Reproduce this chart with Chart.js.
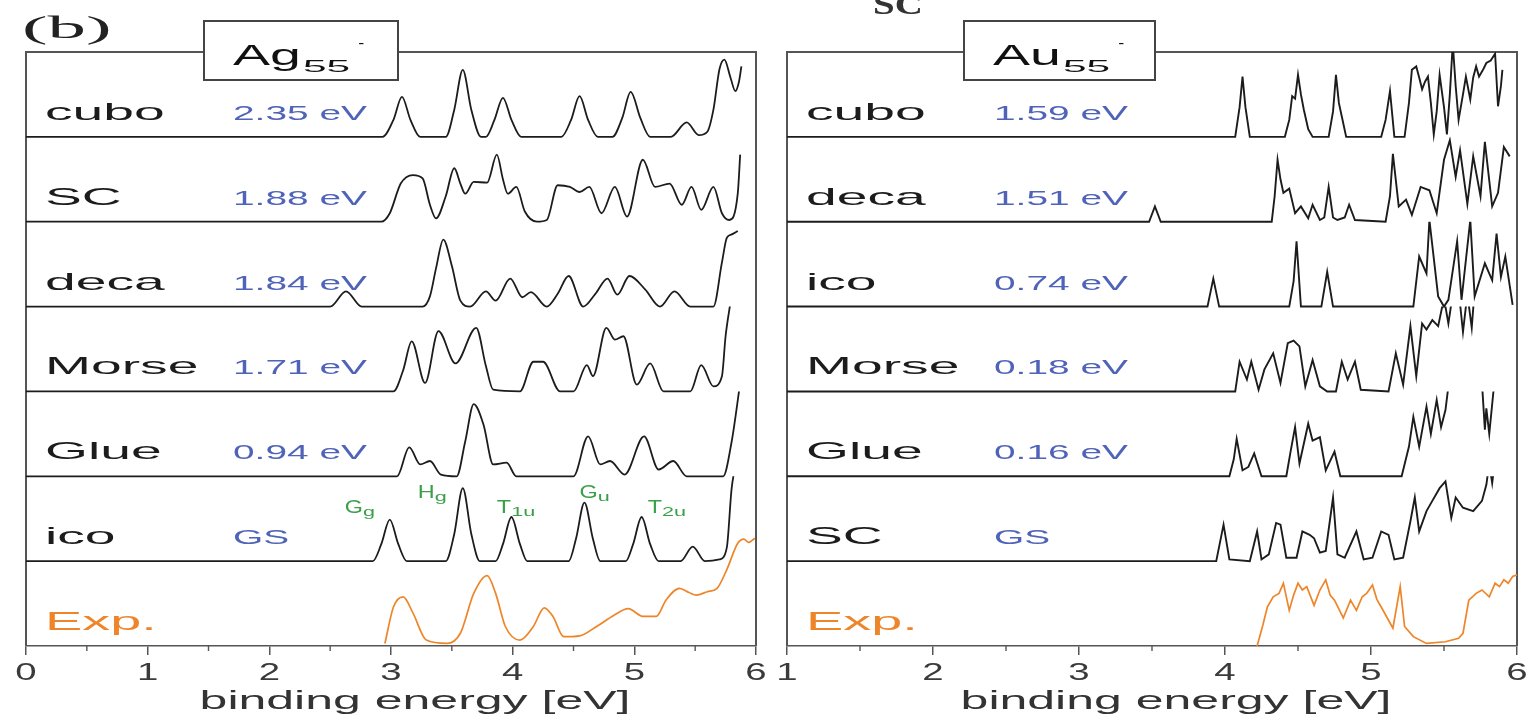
<!DOCTYPE html>
<html><head><meta charset="utf-8">
<script src="https://cdn.jsdelivr.net/npm/chart.js@4.4.1/dist/chart.umd.min.js"></script>
<style>
html,body{margin:0;padding:0;background:#fff;width:1534px;height:718px;overflow:hidden}
#wl{position:absolute;left:0;top:0;width:770px;height:718px}
#wr{position:absolute;left:770px;top:0;width:764px;height:718px}
</style></head><body>
<div id="wl"><canvas id="cl"></canvas></div>
<div id="wr"><canvas id="cr"></canvas></div>
<script>
// ---------- labels ----------
const agRowNames = ['cubo','SC','deca','Morse','Glue','ico'];
const agGapLabels = ['2.35 eV','1.88 eV','1.84 eV','1.71 eV','0.94 eV','GS'];
const auRowNames = ['cubo','deca','ico','Morse','Glue','SC'];
const auGapLabels = ['1.59 eV','1.51 eV','0.74 eV','0.18 eV','0.16 eV','GS'];
const agTickLabels = [0,1,2,3,4,5,6];
const auTickLabels = [1,2,3,4,5,6];
const icoModeNames = [['G','g'],['H','g'],['T','1u'],['G','u'],['T','2u']];

// ---------- Ag55- spectra: [binding energy eV, intensity (row units)] ----------
const agCubo = [[0,0],[2.93,0],[3.02,0.2],[3.09,0.47],[3.16,0.2],[3.24,0],[3.45,0],[3.52,0.32],[3.59,0.79],[3.66,0.32],[3.74,0],[3.78,0],[3.85,0.2],[3.92,0.46],[3.99,0.2],[4.07,0],[4.4,0],[4.48,0.2],[4.55,0.48],[4.62,0.2],[4.7,0],[4.82,0],[4.9,0.22],[4.97,0.53],[5.05,0.22],[5.13,0],[5.3,0],[5.43,0.17],[5.53,0.02],[5.6,0.06],[5.65,0.32],[5.7,0.8],[5.74,0.91],[5.79,0.7],[5.83,0.54],[5.86,0.65],[5.88,0.83]];
const agSC = [[0,0],[2.92,0],[2.99,0.1],[3.08,0.45],[3.18,0.55],[3.26,0.51],[3.32,0.2],[3.37,0.04],[3.45,0.3],[3.52,0.63],[3.57,0.45],[3.61,0.33],[3.68,0.47],[3.79,0.46],[3.87,0.79],[3.92,0.5],[3.96,0.33],[4.03,0.41],[4.1,0.12],[4.2,0],[4.28,0.02],[4.37,0.43],[4.47,0.41],[4.55,0.35],[4.63,0.41],[4.73,0.1],[4.84,0.41],[4.94,0.06],[5.07,0.73],[5.17,0.41],[5.29,0.45],[5.39,0.2],[5.47,0.41],[5.55,0.14],[5.65,0.41],[5.72,0.1],[5.78,0.02],[5.85,0.33],[5.87,0.79]];
const agDeca = [[0,0],[2.5,0],[2.63,0.18],[2.76,0],[3.26,0],[3.32,0.12],[3.37,0.45],[3.43,0.79],[3.5,0.48],[3.57,0.07],[3.65,0],[3.78,0.18],[3.86,0.07],[3.98,0.33],[4.08,0.11],[4.15,0.17],[4.28,0],[4.37,0.15],[4.46,0.36],[4.58,0],[4.68,0.15],[4.78,0.33],[4.86,0.14],[4.96,0.36],[5.09,0.2],[5.21,0],[5.33,0.18],[5.46,0],[5.65,0],[5.72,0.52],[5.76,0.81],[5.8,0.85],[5.85,0.89]];
const agMorse = [[0,0],[3.02,0],[3.1,0.25],[3.17,0.59],[3.28,0.1],[3.39,0.71],[3.53,0.33],[3.7,0.75],[3.78,0.3],[3.84,0.02],[4.06,0],[4.17,0.35],[4.25,0.35],[4.39,0],[4.5,0],[4.61,0.31],[4.66,0.18],[4.77,0.75],[4.84,0.61],[4.91,0.65],[5.02,0.08],[5.13,0.33],[5.24,0],[5.46,0],[5.55,0.31],[5.65,0.06],[5.72,0.18],[5.75,0.65],[5.79,1.05]];
const agGlue = [[0,0],[3.05,0],[3.15,0.34],[3.24,0.14],[3.32,0.18],[3.41,0.02],[3.54,0],[3.61,0.41],[3.68,0.85],[3.76,0.61],[3.84,0.14],[3.95,0.16],[4.03,0],[4.5,0],[4.62,0.47],[4.72,0.14],[4.8,0.18],[4.92,0.02],[5.08,0.47],[5.2,0.08],[5.32,0.18],[5.43,0],[5.73,0],[5.8,0.41],[5.87,1.1]];
const agIco = [[0,0],[2.85,0],[2.92,0.2],[2.99,0.49],[3.06,0.2],[3.13,0],[3.45,0],[3.52,0.32],[3.59,0.86],[3.66,0.32],[3.73,0],[3.86,0],[3.92,0.2],[3.99,0.52],[4.06,0.2],[4.12,0],[4.46,0],[4.52,0.26],[4.59,0.69],[4.66,0.26],[4.72,0],[4.93,0],[4.99,0.2],[5.06,0.52],[5.13,0.2],[5.2,0],[5.38,0],[5.48,0.17],[5.58,0],[5.7,0.02],[5.76,0.16],[5.8,0.86],[5.86,1.3]];
const agExp = [[2.95,0.03],[3.02,0.46],[3.1,0.58],[3.18,0.39],[3.29,0.07],[3.46,0.03],[3.57,0.15],[3.68,0.62],[3.79,0.83],[3.86,0.62],[3.94,0.23],[4.06,0.07],[4.17,0.23],[4.26,0.45],[4.33,0.35],[4.42,0.11],[4.55,0.12],[4.69,0.23],[4.83,0.36],[4.95,0.44],[5.07,0.35],[5.18,0.35],[5.26,0.54],[5.37,0.68],[5.45,0.63],[5.51,0.6],[5.6,0.64],[5.68,0.68],[5.76,0.9],[5.85,1.21],[5.9,1.26],[5.94,1.22],[5.99,1.27]];

// ---------- Au55- spectra ----------
const auCubo = [[1,0],[4.07,0],[4.1,0.35],[4.12,0.71],[4.14,0.35],[4.17,0],[4.41,0],[4.44,0.2],[4.46,0.48],[4.48,0.45],[4.5,0.73],[4.52,0.5],[4.54,0.32],[4.57,0.09],[4.6,0],[4.71,0],[4.74,0.3],[4.76,0.73],[4.78,0.4],[4.8,0.24],[4.83,0],[5.07,0],[5.1,0.2],[5.13,0.54],[5.16,0],[5.23,0],[5.26,0.4],[5.28,0.79],[5.31,0.83],[5.33,0.7],[5.35,0.56],[5.37,0.65],[5.39,0.71],[5.41,0.4],[5.43,0.03],[5.45,0.3],[5.47,0.73],[5.5,0.35],[5.52,0.03],[5.54,0.5],[5.56,1.1],[5.58,0.6],[5.6,0.2],[5.63,0.5],[5.65,0.71],[5.68,0.44],[5.7,0.7],[5.72,0.83],[5.74,0.71],[5.77,0.8],[5.79,0.87],[5.82,0.9],[5.85,0.98],[5.87,0.36],[5.89,0.6],[5.9,0.79]];
const auDeca = [[1,0],[3.48,0],[3.52,0.18],[3.56,0],[4.32,0],[4.34,0.3],[4.36,0.73],[4.38,0.5],[4.4,0.34],[4.44,0.39],[4.48,0.1],[4.52,0.18],[4.57,0.04],[4.6,0.2],[4.65,0.02],[4.68,0.05],[4.71,0.41],[4.74,0.05],[4.77,0.02],[4.82,0.05],[4.85,0.2],[4.89,0.02],[5.1,0],[5.13,0.3],[5.15,0.8],[5.19,0.18],[5.24,0.26],[5.28,0.08],[5.34,0.41],[5.4,0.37],[5.45,0.1],[5.5,0.73],[5.54,0.96],[5.58,0.53],[5.61,0.84],[5.66,0.21],[5.7,0.77],[5.75,0.3],[5.78,0.94],[5.83,0.18],[5.87,0.34],[5.91,0.88],[5.95,0.77]];
const auIco = [[1,0],[3.88,0],[3.92,0.33],[3.96,0],[4.44,0],[4.47,0.3],[4.49,0.77],[4.52,0],[4.66,0],[4.7,0.41],[4.74,0],[5.29,0],[5.33,0.59],[5.38,0.39],[5.4,1.02],[5.46,0.12],[5.5,0],[5.53,0.08],[5.59,0.77],[5.62,0.08],[5.68,1.02],[5.71,0.12],[5.78,0.51],[5.83,0.31],[5.86,0.86],[5.89,0.35],[5.92,0.59],[5.97,0.02]];
const auMorse = [[1,0],[4.07,0],[4.1,0.35],[4.15,0.14],[4.18,0.35],[4.23,0.02],[4.27,0.26],[4.33,0.45],[4.38,0.1],[4.43,0.57],[4.47,0.6],[4.51,0.53],[4.55,0.06],[4.6,0.37],[4.65,0.06],[4.7,0],[4.76,0],[4.8,0.35],[4.84,0.14],[4.89,0.35],[4.93,0.02],[5.12,0],[5.17,0.45],[5.22,0.08],[5.27,0.77],[5.31,0.18],[5.35,0.8],[5.38,0.73],[5.42,0.84],[5.46,0.77],[5.5,1.1],[5.53,0.8],[5.56,1.15],[5.6,1.2],[5.63,0.7],[5.66,1.15],[5.69,0.75],[5.71,1.2]];
const auGlue = [[1,0],[4.03,0],[4.06,0.2],[4.08,0.44],[4.12,0.07],[4.16,0.11],[4.2,0.27],[4.25,0],[4.42,0],[4.45,0.3],[4.48,0.58],[4.51,0.15],[4.57,0.62],[4.6,0.42],[4.65,0.46],[4.69,0.07],[4.75,0.29],[4.79,0],[5.21,0],[5.26,0.35],[5.29,0.7],[5.33,0.35],[5.38,0.82],[5.41,0.5],[5.45,0.9],[5.48,0.58],[5.51,0.78],[5.54,1.2],[5.6,1.3],[5.7,1.25],[5.76,1.1],[5.78,0.55],[5.79,0.8],[5.81,0.5],[5.83,0.85],[5.85,1.2]];
const auSC = [[1,0],[3.94,0],[3.99,0.43],[4.03,0.02],[4.17,0],[4.22,0.35],[4.25,0.02],[4.3,0.08],[4.35,0.45],[4.38,0.43],[4.42,0.04],[4.49,0.04],[4.53,0.35],[4.58,0.31],[4.61,0.27],[4.65,0.1],[4.69,0.12],[4.74,0.75],[4.77,0.08],[4.82,0.04],[4.9,0.35],[4.95,0.02],[5.01,0.04],[5.07,0.35],[5.12,0.31],[5.16,0.02],[5.22,0.04],[5.27,0.47],[5.3,0.75],[5.33,0.35],[5.38,0.59],[5.42,0.71],[5.47,0.86],[5.51,0.94],[5.55,0.51],[5.58,0.75],[5.63,0.63],[5.7,0.59],[5.76,0.71],[5.79,0.9],[5.81,1.15],[5.83,0.92],[5.85,1.2],[5.9,1.3]];
const auExp = [[4.22,0],[4.26,0.25],[4.29,0.46],[4.33,0.58],[4.37,0.62],[4.4,0.74],[4.44,0.42],[4.47,0.6],[4.5,0.74],[4.53,0.66],[4.56,0.7],[4.61,0.48],[4.65,0.66],[4.69,0.78],[4.72,0.6],[4.75,0.54],[4.81,0.33],[4.86,0.54],[4.9,0.42],[4.94,0.58],[4.97,0.62],[5.01,0.72],[5.04,0.55],[5.07,0.46],[5.15,0.21],[5.2,0.7],[5.23,0.23],[5.29,0.11],[5.38,0.03],[5.51,0.05],[5.6,0.09],[5.63,0.15],[5.67,0.54],[5.72,0.62],[5.76,0.66],[5.81,0.58],[5.85,0.74],[5.88,0.7],[5.91,0.78],[5.94,0.74],[5.97,0.82],[6.0,0.84]];

// ---------- helpers ----------
const SANS = "'Liberation Sans', Arial, Helvetica, sans-serif";
const SERIF = "'Liberation Serif', 'Times New Roman', serif";
function toPoints(arr, row) { return arr.map(p => ({ x: p[0], y: row + p[1] })); }
function buildDatasets(spectra, exp, smooth) {
  const ds = spectra.map((s, i) => ({
    data: toPoints(s, 6 - i), row: 6 - i, clipToRow: true,
    borderColor: '#1c1c1c', borderWidth: smooth ? 1.8 : 1.9, pointRadius: 0, fill: false,
    cubicInterpolationMode: smooth ? 'monotone' : 'default', tension: 0
  }));
  ds.push({
    data: toPoints(exp, 0), row: 0, clipToRow: false,
    borderColor: '#ee8529', borderWidth: 1.7, pointRadius: 0, fill: false,
    cubicInterpolationMode: smooth ? 'monotone' : 'default', tension: 0
  });
  return ds;
}
function sText(ctx, str, x, y, font, color, sx, align) {
  ctx.save();
  ctx.font = font; ctx.fillStyle = color; ctx.textAlign = align || 'left'; ctx.textBaseline = 'alphabetic';
  ctx.translate(x, y); ctx.scale(sx, 1);
  ctx.fillText(str, 0, 0);
  const w = ctx.measureText(str).width * sx;
  ctx.restore();
  return w;
}

const rowClip = {
  id: 'rowClip',
  beforeDatasetDraw(chart, args) {
    const ds = chart.data.datasets[args.index];
    if (!ds.clipToRow) return;
    const { ctx, chartArea: a, scales: { y } } = chart;
    const top = y.getPixelForValue(ds.row + 1);
    ctx.save();
    ctx.beginPath();
    ctx.rect(a.left - 2, top, a.right - a.left + 4, a.bottom - top + 2);
    ctx.clip();
  },
  afterDatasetDraw(chart, args) {
    const ds = chart.data.datasets[args.index];
    if (!ds.clipToRow) return;
    chart.ctx.restore();
  }
};

const panelText = {
  id: 'panelText',
  beforeDatasetsDraw(chart) {
    const { ctx, chartArea: a } = chart;
    ctx.save();
    ctx.strokeStyle = '#555'; ctx.lineWidth = 2;
    ctx.beginPath();
    ctx.moveTo(a.left, a.bottom); ctx.lineTo(a.left, a.top); ctx.lineTo(a.right, a.top); ctx.lineTo(a.right, a.bottom);
    ctx.stroke();
    ctx.restore();
  },
  afterDraw(chart, args, o) {
    const { ctx, chartArea: a, scales: { x, y } } = chart;
    // minor ticks
    ctx.save(); ctx.strokeStyle = '#555'; ctx.lineWidth = 1.4;
    for (let v = x.min + 0.5; v < x.max; v += 1) {
      const px = x.getPixelForValue(v);
      ctx.beginPath(); ctx.moveTo(px, a.bottom); ctx.lineTo(px, a.bottom + 5); ctx.stroke();
    }
    ctx.restore();
    // tick labels
    o.ticks.forEach(v => sText(ctx, String(v), x.getPixelForValue(v), a.bottom + 34, '24px ' + SANS, '#3a3a3a', 1.6, 'center'));
    // axis title
    sText(ctx, 'binding energy [eV]', (a.left + a.right) / 2 + 24, a.bottom + 63, '25px ' + SANS, '#333', 2.0, 'center');
    // row labels
    o.names.forEach((n, i) => {
      const yy = y.getPixelForValue(6 - i + 0.2);
      sText(ctx, n, a.left + 19, yy, '24px ' + SANS, '#1c1c1c', 2.3, 'left');
      sText(ctx, o.gaps[i], a.left + 207, yy, '21px ' + SANS, '#4f63b8', 1.85, 'left');
    });
    sText(ctx, 'Exp.', a.left + 19, y.getPixelForValue(0.19), '26px ' + SANS, '#ee8529', 2.15, 'left');
    // ico mode labels
    if (o.modes) {
      o.modes.forEach(m => {
        const px = x.getPixelForValue(m.e), py = y.getPixelForValue(m.h);
        const w = sText(ctx, m.t, px, py, '18px ' + SANS, '#3a9f48', 1.3, 'left');
        sText(ctx, m.s, px + w, py + 3, '12px ' + SANS, '#3a9f48', 1.8, 'left');
      });
    }
    // title box
    const b = o.box;
    ctx.save();
    ctx.fillStyle = '#fff'; ctx.fillRect(b.x, b.y, b.w, b.h);
    ctx.strokeStyle = '#444'; ctx.lineWidth = 2; ctx.strokeRect(b.x, b.y, b.w, b.h);
    ctx.restore();
    let tx = b.x + 29;
    tx += sText(ctx, o.element, tx, b.y + 44, '30px ' + SANS, '#111', 1.85, 'left');
    tx += 2;
    tx += sText(ctx, '55', tx, b.y + 51, '17px ' + SANS, '#111', 2.5, 'left');
    sText(ctx, '-', tx + 8, b.y + 27, '15px ' + SANS, '#111', 1.2, 'left');
    if (o.extra) o.extra.forEach(e => sText(ctx, e.text, e.x, e.y, e.font, e.color, e.sx, 'left'));
  }
};

function makeChart(id, datasets, xmin, xmax, pad, textOpts) {
  return new Chart(document.getElementById(id), {
    type: 'line',
    data: { datasets },
    options: {
      responsive: true, maintainAspectRatio: false, animation: false, events: [],
      layout: { padding: pad },
      plugins: { legend: { display: false }, tooltip: { enabled: false }, panelText: textOpts },
      scales: {
        x: {
          type: 'linear', min: xmin, max: xmax,
          ticks: { display: false, stepSize: 1 },
          grid: { display: true, drawOnChartArea: false, drawTicks: true, tickLength: 9, color: '#555', lineWidth: 1.5 },
          border: { display: true, color: '#555', width: 1.6 }
        },
        y: { display: false, min: 0, max: 7 }
      }
    },
    plugins: [rowClip, panelText]
  });
}

makeChart('cl', buildDatasets([agCubo, agSC, agDeca, agMorse, agGlue, agIco], agExp, true), 0, 6,
  { left: 26, top: 52, right: 14, bottom: 63 },
  {
    ticks: agTickLabels, names: agRowNames, gaps: agGapLabels, element: 'Ag',
    box: { x: 204, y: 21, w: 194, h: 59 },
    modes: [
      { t: icoModeNames[0][0], s: icoModeNames[0][1], e: 2.62, h: 1.57 },
      { t: icoModeNames[1][0], s: icoModeNames[1][1], e: 3.22, h: 1.74 },
      { t: icoModeNames[2][0], s: icoModeNames[2][1], e: 3.87, h: 1.57 },
      { t: icoModeNames[3][0], s: icoModeNames[3][1], e: 4.55, h: 1.74 },
      { t: icoModeNames[4][0], s: icoModeNames[4][1], e: 5.11, h: 1.57 }
    ],
    extra: [{ text: '(b)', x: 22, y: 38, font: '32px ' + SERIF, color: '#222', sx: 2.4 }]
  });

makeChart('cr', buildDatasets([auCubo, auDeca, auIco, auMorse, auGlue, auSC], auExp, false), 1, 6,
  { left: 17, top: 52, right: 17, bottom: 63 },
  {
    ticks: auTickLabels, names: auRowNames, gaps: auGapLabels, element: 'Au',
    box: { x: 194, y: 21, w: 191, h: 59 },
    extra: [{ text: 'SC', x: 103, y: 14, font: 'bold 30px ' + SERIF, color: '#333', sx: 1.3 }]
  });
</script>
</body></html>
